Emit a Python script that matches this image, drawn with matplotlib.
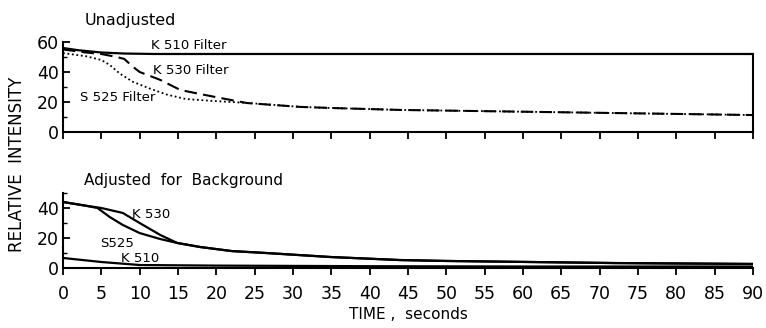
import numpy as np
import matplotlib.pyplot as plt
from matplotlib.ticker import MultipleLocator

# tempo (s) e intensita'
t_k510 = [0, 2, 5, 8, 12, 20, 40, 60, 90]
k510 = [56, 54.5, 53, 52.3, 52, 52, 52, 52, 52]

t_k530 = [0, 3, 5, 7, 8, 9, 10, 12.7, 15.3, 17.9, 20.5, 24, 31, 35, 44, 63, 90]
k530 = [55, 53, 52, 50, 48.7, 44, 40, 34.7, 28, 25.3, 22.7, 19.3, 16.7, 16, 14.7, 13.3, 11.3]

t_s525 = [0, 3, 5, 6.1, 7.4, 9.1, 11.3, 13.5, 16, 19.5, 22, 25, 31, 35, 44, 63, 90]
s525 = [52.6, 50.5, 48, 44.7, 39, 33.5, 29, 25, 22, 20.7, 20, 19, 16.7, 16, 14.7, 13.3, 11.3]

# corretto per il fondo
tb_k530 = [0, 3, 5, 6.1, 7.8, 10, 12.7, 14.9, 17.9, 22, 26.5, 35, 44, 50, 72, 90]
b_k530 = [44, 41.5, 40, 38.7, 36.7, 30, 22, 16.7, 14, 11.3, 10, 7.3, 5.3, 4.7, 3.3, 2.7]

tb_s525 = [0, 3, 4.5, 6.1, 7.8, 10, 12.7, 14.9, 17.9, 22, 26.5, 35, 44, 50, 72, 90]
b_s525 = [44, 41.5, 40, 34, 28.7, 23.3, 19.3, 16.7, 14, 11.3, 10, 7.3, 5.3, 4.7, 3.3, 2.7]

tb_k510 = [0, 5, 10, 20, 40, 60, 90]
b_k510 = [6.7, 4, 2, 1.6, 1.2, 1, 1]

xticks = np.arange(0, 95, 5)

fig = plt.figure(figsize=(7.66, 3.28), dpi=100)
ax1 = fig.add_axes([0.0822, 0.5976, 0.9008, 0.2744])
ax2 = fig.add_axes([0.0822, 0.1829, 0.9008, 0.2287])

ax1.plot(t_k510, k510, color='black', lw=1.6)
ax1.plot(t_k530, k530, color='black', lw=1.5, linestyle=(0, (6, 3)))
ax1.plot(t_s525, s525, color='black', lw=1.3, linestyle=(0, (1, 1.5)))
ax1.set_ylim(0, 60)
ax1.set_xlim(0, 90)
ax1.spines['top'].set_visible(False)
ax1.spines['right'].set_bounds(0, 52)
ax1.set_xticks(xticks)
ax1.set_xticklabels([])
ax1.set_yticks([0, 20, 40, 60])
ax1.yaxis.set_minor_locator(MultipleLocator(10))
ax1.text(11.5, 55.5, 'K 510 Filter', fontsize=9.5)
ax1.text(11.8, 38.5, 'K 530 Filter', fontsize=9.5)
ax1.text(2.2, 20.5, 'S 525 Filter', fontsize=9.5)
ax1.text(2.8, 71, 'Unadjusted', fontsize=11.5)

ax2.plot(tb_k530, b_k530, color='black', lw=1.6)
ax2.plot(tb_s525, b_s525, color='black', lw=1.6)
ax2.plot(tb_k510, b_k510, color='black', lw=1.6)
ax2.set_ylim(0, 50)
ax2.set_xlim(0, 90)
ax2.spines['top'].set_visible(False)
ax2.spines['right'].set_visible(False)
ax2.set_xticks(xticks)
ax2.set_yticks([0, 20, 40])
ax2.yaxis.set_minor_locator(MultipleLocator(10))
ax2.text(9.0, 33.5, 'K 530', fontsize=9.5)
ax2.text(4.8, 14, 'S525', fontsize=9.5)
ax2.text(7.6, 4.2, 'K 510', fontsize=9.5)
ax2.text(2.8, 55, 'Adjusted  for  Background', fontsize=11)
ax2.set_xlabel('TIME ,  seconds', fontsize=11, labelpad=3)

for ax in (ax1, ax2):
    for s in ax.spines.values():
        s.set_linewidth(1.5)
    ax.tick_params(axis='x', direction='out', length=5, width=1.3, labelsize=12.5, pad=7)
    ax.tick_params(axis='y', which='major', direction='in', length=5, width=1.3, labelsize=12.5, pad=3)
    ax.tick_params(axis='y', which='minor', direction='in', length=3, width=1.0)

fig.text(0.022, 0.5, 'RELATIVE  INTENSITY', rotation=90, fontsize=12, ha='center', va='center')

fig.savefig('out.png')
